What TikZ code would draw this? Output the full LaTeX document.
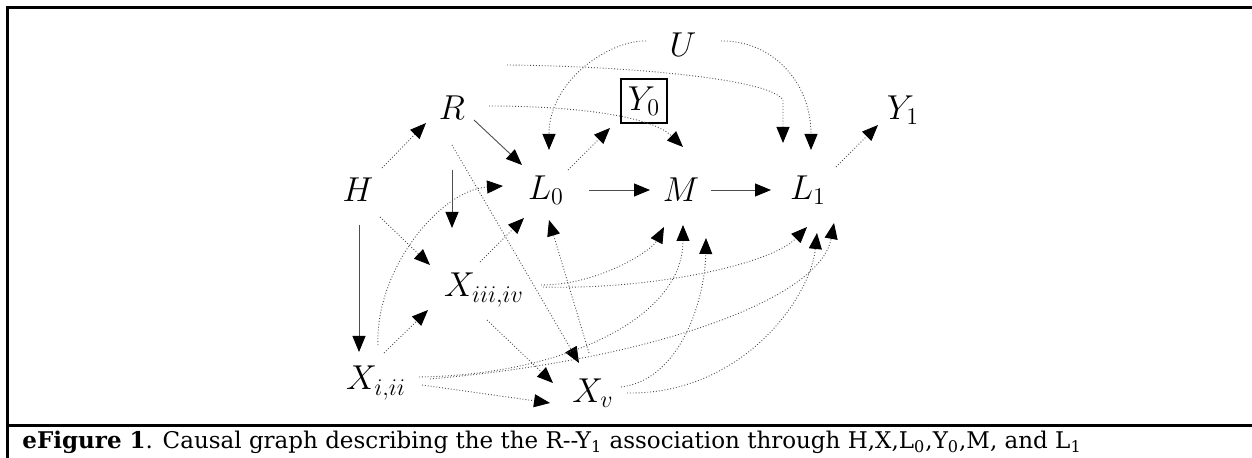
\documentclass[tikz,border=0pt]{standalone}
\usepackage{fontspec}
\setmainfont{DejaVu Serif}
\usetikzlibrary{arrows.meta,calc}

\begin{document}
\begin{tikzpicture}[x=0.5pt,y=-0.5pt,
  var/.style={inner sep=0pt,font=\fontsize{17}{20}\selectfont},
  causal/.style={line width=0.45pt,black!70,-{Triangle[length=8pt,width=6.5pt,color=black]}},
  causaldot/.style={causal,densely dotted}]
\useasboundingbox (0,0) rectangle (1252,458);
% frame and caption
\draw[line width=1.5pt] (1252,7.5) -| (7.5,458);
\draw[line width=1.5pt] (7.5,426) -- (1252,426);
\node[anchor=base west,inner sep=0pt,font=\fontsize{11.5}{13}\selectfont] (cap) at (22,449) {\textbf{eFigure 1}. Causal graph describing the the R{-}{-}Y\textsubscript{1} association through H,X,L\textsubscript{0},Y\textsubscript{0},M, and L\textsubscript{1}};
% variables
\node[var] (H) at (358,190) {$H$};
\node[var] (R) at (452,108) {$R$};
\node[var] (U) at (683,45) {$U$};
\node[var,draw,line width=0.6pt,minimum width=23pt,minimum height=22pt] (Y0) at (644,101) {$Y_0$};
\node[var] (L0) at (546,190) {$L_0$};
\node[var] (M) at (681,190) {$M$};
\node[var] (L1) at (808,190) {$L_1$};
\node[var] (Y1) at (903,110) {$Y_1$};
\node[var] (Xiii) at (484,290) {$X_{iii,iv}$};
\node[var] (Xii) at (376,383) {$X_{i,ii}$};
\node[var] (Xv) at (593,393) {$X_v$};
% straight arrows
\draw[causaldot] ($(H)+(24,-22)$) -- ($(R)+(-26,15)$);
\draw[causal] ($(R)+(22,12)$) -- ($(L0)+(-24,-25)$);
\draw[causaldot] ($(L0)+(22,-20)$) -- ($(Y0)+(-34,27)$);
\draw[causal] ($(L0)+(43,0)$) -- ($(M)+(-31,0)$);
\draw[causal] ($(M)+(30,0)$) -- ($(L1)+(-37,0)$);
\draw[causaldot] ($(L1)+(28,-23)$) -- ($(Y1)+(-25,15)$);
\draw[causal] ($(H)+(1,35)$) -- ($(Xii)+(-17,-31)$);
\draw[causal] ($(R)+(0,62)$) -- ($(Xiii)+(-32,-62)$);
\draw[causaldot] ($(R)+(0,37)$) -- ($(Xv)+(-14,-30)$);
\draw[causaldot] ($(H)+(22,27)$) -- ($(Xiii)+(-54,-25)$);
\draw[causaldot] ($(Xii)+(8,-30)$) -- ($(Xiii)+(-56,20)$);
\draw[causaldot] ($(Xiii)+(-4,-28)$) -- ($(L0)+(-22,28)$);
\draw[causaldot] ($(Xv)+(-4,-40)$) -- ($(L0)+(3,30)$);
\draw[causaldot] ($(Xiii)+(3,30)$) -- ($(Xv)+(-40,-10)$);
\draw[causaldot] ($(Xii)+(46,2)$) -- ($(Xv)+(-43,10)$);
% curved arrows
\draw[causaldot] ($(R)+(37,-2)$) .. controls +(81,0) and +(-33,-32) .. ($(M)+(2,-43)$);
\draw[causaldot] ($(R)+(55,-43)$) .. controls +(113,1) and +(-13,-22) .. ($(L1)+(-25,-90)$) -- ($(L1)+(-25,-47)$);
\draw[causaldot] ($(U)+(-37,-4)$) .. controls +(-36,-1) and +(0,-70) .. ($(L0)+(3,-40)$);
\draw[causaldot] ($(U)+(38,-4)$) .. controls +(49,-1) and +(0,-70) .. ($(L1)+(3,-40)$);
\draw[causaldot] ($(Xii)+(2,-38)$) .. controls +(-3,-75) and +(-63,4) .. ($(L0)+(-43,-4)$);
\draw[causaldot] ($(Xiii)+(57,-5)$) .. controls +(59,0) and +(-12,23) .. ($(M)+(-17,37)$);
\draw[causaldot] ($(Xiii)+(59,-3)$) .. controls +(107,3) and +(-37,38) .. ($(L1)+(-1,37)$);
\draw[causaldot] ($(Xii)+(43,-6)$) .. controls +(141,-2) and +(0,95) .. ($(M)+(2,35)$);
\draw[causaldot] ($(Xii)+(54,-4)$) .. controls +(220,-19) and +(-14,77) .. ($(L1)+(26,33)$);
\draw[causaldot] ($(Xv)+(28,-6)$) .. controls +(59,-7) and +(-1,62) .. ($(M)+(25,48)$);
\draw[causaldot] ($(Xv)+(34,0)$) .. controls +(113,2) and +(-7,67) .. ($(L1)+(9,43)$);
\end{tikzpicture}
\end{document}
